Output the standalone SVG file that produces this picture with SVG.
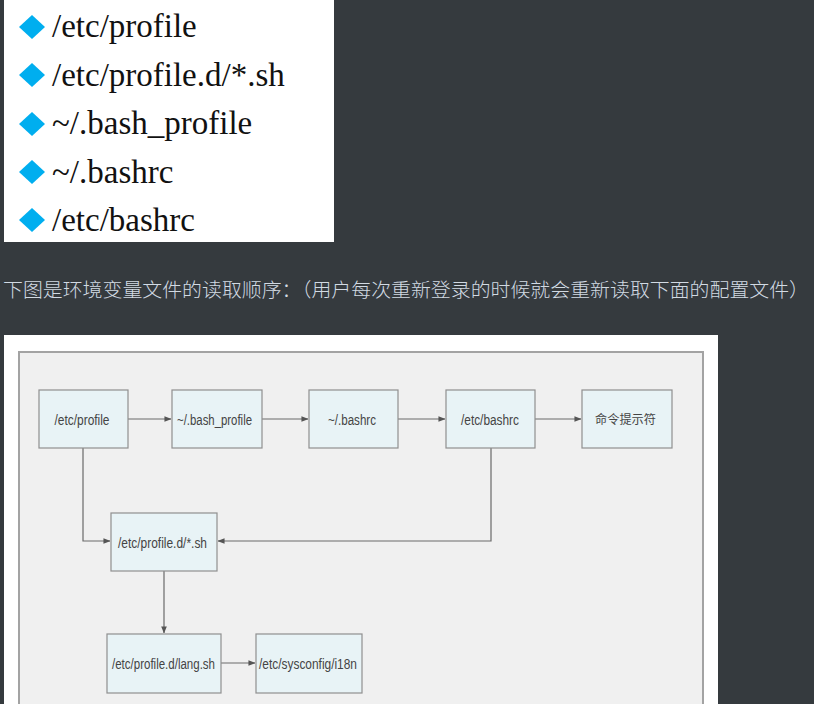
<svg xmlns="http://www.w3.org/2000/svg" width="814" height="704" viewBox="0 0 814 704">
<defs>
<style>
.list{font-family:"Liberation Serif","Times New Roman",serif;font-size:33px;fill:#111}
.dia{fill:#00aeef}
.cap{font-family:"Noto Sans CJK SC","Noto Sans",sans-serif;font-size:19.5px;font-weight:300;fill:#d2dae3}
.node rect{fill:#e8f3f6;stroke:#8f8f8f;stroke-width:1.2}
.node text{font-family:"Liberation Sans","Noto Sans CJK SC",sans-serif;font-size:14px;fill:#444;text-anchor:middle}
.conn path{fill:none;stroke:#6a6a6a;stroke-width:1.2}
</style>
<marker id="arr" viewBox="0 0 8 8" refX="7.5" refY="4" markerWidth="7" markerHeight="7" markerUnits="userSpaceOnUse" orient="auto">
<path d="M0,0.8 L8,4 L0,7.2 Z" fill="#555"/>
</marker>
<path id="dm" d="M0,-12 L13,0 L0,12 L-13,0 Z"/>
</defs>
<rect x="0" y="0" width="814" height="704" fill="#353a3e"/>

<g id="list">
<rect x="4" y="0" width="330" height="242" fill="#ffffff"/>
<use href="#dm" x="32" y="27" class="dia"/>
<use href="#dm" x="32" y="75" class="dia"/>
<use href="#dm" x="32" y="124" class="dia"/>
<use href="#dm" x="32" y="172" class="dia"/>
<use href="#dm" x="32" y="220" class="dia"/>
<text class="list" x="52" y="37">/etc/profile</text>
<text class="list" x="52" y="86">/etc/profile.d/*.sh</text>
<text class="list" x="52" y="134">~/.bash_profile</text>
<text class="list" x="52" y="183">~/.bashrc</text>
<text class="list" x="52" y="231">/etc/bashrc</text>
</g>

<text class="cap" x="3" y="297" textLength="806" lengthAdjust="spacingAndGlyphs">下图是环境变量文件的读取顺序：（用户每次重新登录的时候就会重新读取下面的配置文件）</text>

<g id="frame">
<rect x="4" y="335" width="714" height="369" fill="#ffffff"/>
<rect x="19" y="352" width="684" height="360" fill="#f0f0f0" stroke="#a3a3a3" stroke-width="2"/>
</g>

<g class="conn" id="connectors">
<path d="M128,419 H171" marker-end="url(#arr)"/>
<path d="M262,419 H308" marker-end="url(#arr)"/>
<path d="M398,419 H445" marker-end="url(#arr)"/>
<path d="M535,419 H581" marker-end="url(#arr)"/>
<path d="M83,448 V541 H110" marker-end="url(#arr)"/>
<path d="M491,448 V541 H218" marker-end="url(#arr)"/>
<path d="M164,571 V633" marker-end="url(#arr)"/>
<path d="M221,663 H255" marker-end="url(#arr)"/>
</g>

<g class="node" id="n-etc-profile"><rect x="39" y="390" width="89" height="58"/><text x="82" y="424.5" textLength="55" lengthAdjust="spacingAndGlyphs">/etc/profile</text></g>
<g class="node" id="n-bash-profile"><rect x="172" y="390" width="90" height="58"/><text x="214.5" y="424.5" textLength="75" lengthAdjust="spacingAndGlyphs">~/.bash_profile</text></g>
<g class="node" id="n-bashrc"><rect x="309" y="390" width="89" height="58"/><text x="352" y="424.5" textLength="48" lengthAdjust="spacingAndGlyphs">~/.bashrc</text></g>
<g class="node" id="n-etc-bashrc"><rect x="446" y="390" width="89" height="58"/><text x="490" y="424.5" textLength="58" lengthAdjust="spacingAndGlyphs">/etc/bashrc</text></g>
<g class="node" id="n-prompt"><rect x="582" y="390" width="90" height="58"/><text x="625.5" y="424" textLength="61" lengthAdjust="spacingAndGlyphs" style="font-size:12px">命令提示符</text></g>
<g class="node" id="n-profile-d"><rect x="111" y="513" width="106" height="58"/><text x="162.5" y="547.5" textLength="89" lengthAdjust="spacingAndGlyphs">/etc/profile.d/*.sh</text></g>
<g class="node" id="n-lang"><rect x="107" y="634" width="114" height="59"/><text x="163.5" y="668.5" textLength="103" lengthAdjust="spacingAndGlyphs">/etc/profile.d/lang.sh</text></g>
<g class="node" id="n-i18n"><rect x="256" y="634" width="106" height="59"/><text x="308" y="668.5" textLength="98" lengthAdjust="spacingAndGlyphs">/etc/sysconfig/i18n</text></g>
</svg>
